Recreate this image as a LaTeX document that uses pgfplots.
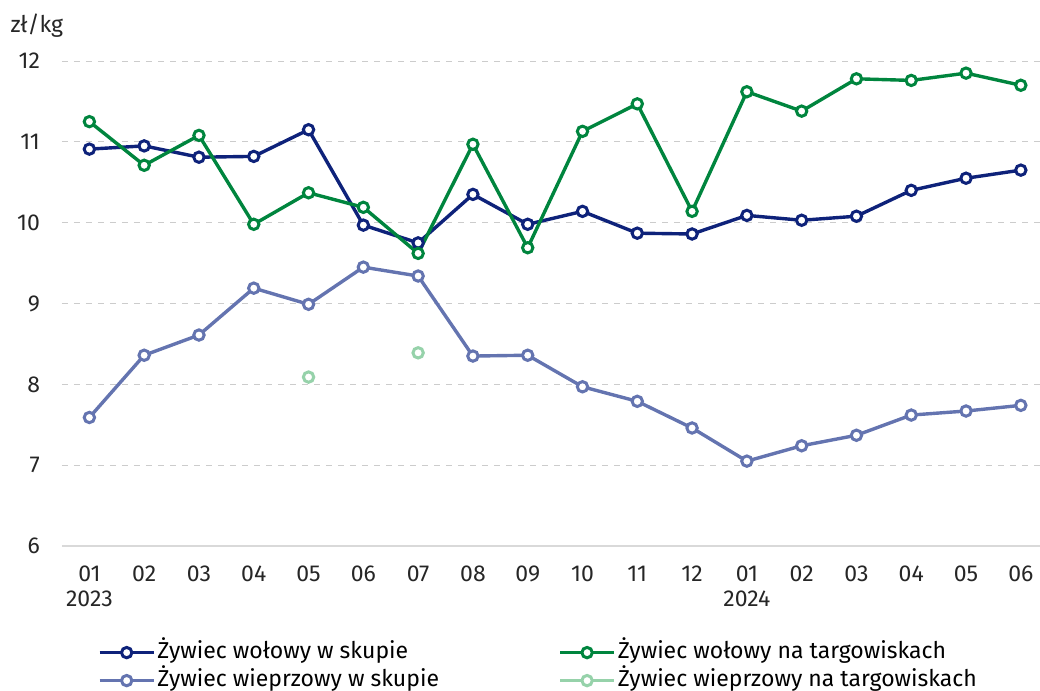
\documentclass[border=0pt]{standalone}
\usepackage{fontspec}
\setmainfont{Fira Sans}
\usepackage{pgfplots}
\pgfplotsset{compat=1.18}
\definecolor{cnavy}{RGB}{14,34,122}
\definecolor{cgreen}{RGB}{0,133,62}
\definecolor{cslate}{RGB}{100,116,176}
\definecolor{clight}{RGB}{150,210,170}
\begin{document}
\fontsize{11.5}{12.5}\selectfont
\begin{tikzpicture}
\path[use as bounding box] (0,0) rectangle (520pt,-345.5pt);
\begin{axis}[
  at={(31pt,-273pt)}, anchor=south west,
  scale only axis, width=489pt, height=242.5pt,
  xmin=-0.5, xmax=17.35, ymin=6, ymax=12,
  clip=false,
  ytick={6,7,8,9,10,11,12},
  xtick={0,...,17},
  xticklabels={{01\\2023},02,03,04,05,06,07,08,09,10,11,12,{01\\2024},02,03,04,05,06},
  xticklabel style={align=center, anchor=north, yshift=-6pt},
  yticklabel style={anchor=east, xshift=-7pt},
  /pgf/number format/assume math mode=true,
  ticklabel style={font=\fontsize{11.5}{12.5}\selectfont, text=black!85},
  major tick length=0pt,
  axis lines*=left,
  y axis line style={draw=none},
  x axis line style={draw=black!15, line width=0.8pt},
  ymajorgrids,
  major grid style={dashed, draw=black!20, line width=0.5pt},
  every axis plot/.append style={line width=1.7pt, mark=*, mark size=2.6pt, mark options={fill=white, line width=1.5pt, solid}},
  legend columns=2,
  legend cell align=left,
  legend style={at={(0.0368,-0.193)}, anchor=north west, draw=none, fill=none,
    inner sep=0pt, outer sep=0pt, font=\fontsize{11.5}{12.5}\selectfont,
    nodes={inner sep=1pt, text height=8.5pt, text depth=2.5pt},
    /tikz/every even column/.append style={column sep=0pt},
    /tikz/row sep=1pt},
  legend image code/.code={\draw[mark repeat=2,mark phase=2] plot coordinates {(0pt,0pt)(13.5pt,0pt)(27pt,0pt)};},
]
\addplot[cnavy] coordinates {(0,10.91)(1,10.95)(2,10.81)(3,10.82)(4,11.15)(5,9.97)(6,9.75)(7,10.35)(8,9.98)(9,10.14)(10,9.87)(11,9.86)(12,10.09)(13,10.03)(14,10.08)(15,10.40)(16,10.55)(17,10.65)};
\addlegendentry{\makebox[199.5pt][l]{Żywiec wołowy w skupie}}
\addplot[cgreen] coordinates {(0,11.25)(1,10.71)(2,11.08)(3,9.98)(4,10.37)(5,10.19)(6,9.62)(7,10.97)(8,9.69)(9,11.13)(10,11.47)(11,10.14)(12,11.62)(13,11.38)(14,11.78)(15,11.76)(16,11.85)(17,11.70)};
\addlegendentry{Żywiec wołowy na targowiskach}
\addplot[cslate] coordinates {(0,7.59)(1,8.36)(2,8.61)(3,9.19)(4,8.99)(5,9.45)(6,9.34)(7,8.35)(8,8.36)(9,7.97)(10,7.79)(11,7.46)(12,7.05)(13,7.24)(14,7.37)(15,7.62)(16,7.67)(17,7.74)};
\addlegendentry{Żywiec wieprzowy w skupie}
\addplot[clight, unbounded coords=jump] coordinates {(4,8.09)(5,nan)(6,8.39)};
\addlegendentry{Żywiec wieprzowy na targowiskach}
\node[anchor=west, inner sep=0pt, font=\fontsize{11.5}{12.5}\selectfont, text=black!85] at (rel axis cs:-0.053,1.072) {zł/kg};
\end{axis}
\end{tikzpicture}
\end{document}
